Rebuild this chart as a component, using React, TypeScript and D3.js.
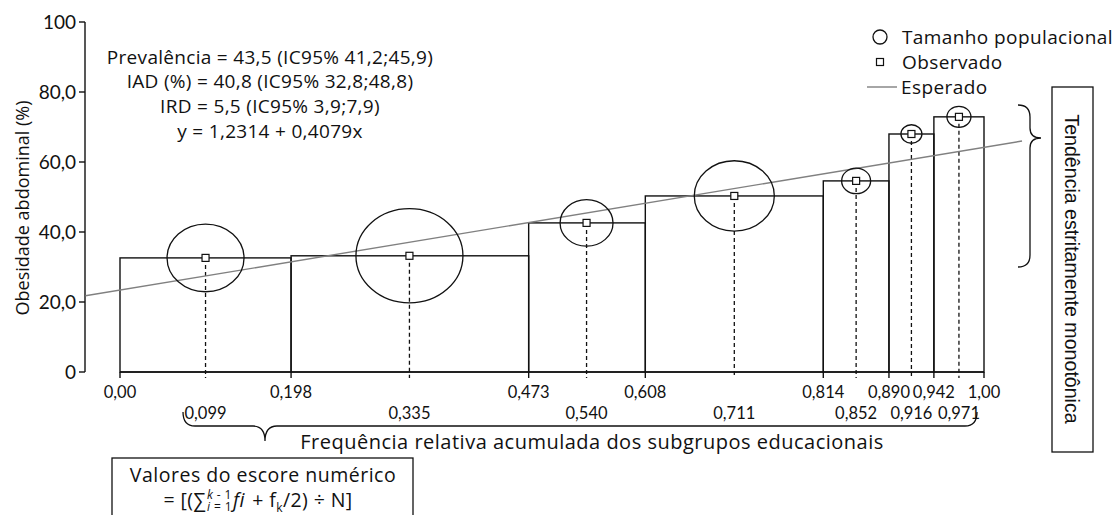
import React, { useEffect, useRef } from "react";
import * as d3 from "d3";

// limites dos subgrupos educacionais (frequência relativa acumulada)
const limites = [0, 0.198, 0.473, 0.608, 0.814, 0.89, 0.942, 1.0];
const limitesLabels = ["0,00", "0,198", "0,473", "0,608", "0,814", "0,890", "0,942", "1,00"];
// escore numérico (ponto médio de cada subgrupo)
const pontosMedios = [0.099, 0.335, 0.54, 0.711, 0.852, 0.916, 0.971];
const pontosLabels = ["0,099", "0,335", "0,540", "0,711", "0,852", "0,916", "0,971"];
// obesidade abdominal observada (%)
const observado = [32.6, 33.2, 42.6, 50.3, 54.6, 68.0, 72.9];
// tamanho populacional relativo (área do círculo)
const tamanhos = [1480, 2860, 700, 1600, 210, 110, 144];

const yTicks = [0, 20, 40, 60, 80, 100];
const yTickLabels = ["0", "20,0", "40,0", "60,0", "80,0", "100"];

// reta esperada
const intercepto = 23.4;
const inclinacao = 40.8;
const extensaoReta = [-0.04, 1.044];

const anotacoes = [
  "Prevalência = 43,5 (IC95% 41,2;45,9)",
  "IAD (%) = 40,8 (IC95% 32,8;48,8)",
  "IRD = 5,5 (IC95% 3,9;7,9)",
  "y = 1,2314 + 0,4079x",
];
const legenda = ["Tamanho populacional", "Observado", "Esperado"];

const TICK_FONT = "Lato, sans-serif";
const FONT = "'Open Sans', sans-serif";

const App: React.FC = () => {
  const svgRef = useRef<SVGSVGElement>(null);
  const width = 1116;
  const height = 515;

  useEffect(() => {
    if (!svgRef.current) return;
    const svg = d3.select(svgRef.current);
    svg.selectAll("*").remove();

    const x = d3.scaleLinear().domain([0, 1]).range([120, 984]);
    const y = d3.scaleLinear().domain([0, 100]).range([372, 22]);
    const r = d3
      .scaleSqrt()
      .domain([0, d3.max(tamanhos) as number])
      .range([0, 53.5]);
    const axisX = 85;

    const g = svg.append("g");

    // barras (retângulos por subgrupo)
    const bars = d3.range(observado.length).map((i) => ({
      x0: limites[i],
      x1: limites[i + 1],
      v: observado[i],
    }));
    g.selectAll(".bar")
      .data(bars)
      .enter()
      .append("rect")
      .attr("x", (d) => x(d.x0))
      .attr("y", (d) => y(d.v))
      .attr("width", (d) => x(d.x1) - x(d.x0))
      .attr("height", (d) => y(0) - y(d.v))
      .attr("fill", "none")
      .attr("stroke", "#111")
      .attr("stroke-width", 1.4);

    // eixo y
    g.append("line")
      .attr("x1", axisX)
      .attr("x2", axisX)
      .attr("y1", y(100))
      .attr("y2", y(0))
      .attr("stroke", "#111")
      .attr("stroke-width", 1.4);
    yTicks.forEach((t, i) => {
      g.append("line")
        .attr("x1", axisX - 6)
        .attr("x2", axisX)
        .attr("y1", y(t))
        .attr("y2", y(t))
        .attr("stroke", "#111")
        .attr("stroke-width", 1.4);
      g.append("text")
        .attr("x", axisX - 9)
        .attr("y", y(t))
        .attr("dy", "0.35em")
        .attr("text-anchor", "end")
        .style("font-family", TICK_FONT)
        .style("font-size", "19px")
        .style("fill", "#111")
        .text(yTickLabels[i]);
    });

    g.append("text")
      .attr("transform", `translate(23, 208) rotate(-90)`)
      .attr("text-anchor", "middle")
      .attr("dy", "0.35em")
      .style("font-family", FONT)
      .style("font-size", "18px")
      .style("fill", "#111")
      .text("Obesidade abdominal (%)");

    // eixo x
    g.append("line")
      .attr("x1", x(0))
      .attr("x2", x(1))
      .attr("y1", y(0))
      .attr("y2", y(0))
      .attr("stroke", "#111")
      .attr("stroke-width", 1.4);
    limites.forEach((t, i) => {
      g.append("line")
        .attr("x1", x(t))
        .attr("x2", x(t))
        .attr("y1", y(0))
        .attr("y2", y(0) + 6)
        .attr("stroke", "#111")
        .attr("stroke-width", 1.4);
      g.append("text")
        .attr("x", x(t))
        .attr("y", 398)
        .attr("text-anchor", "middle")
        .style("font-family", TICK_FONT)
        .style("font-size", "16.5px")
        .style("fill", "#111")
        .text(limitesLabels[i]);
    });
    pontosMedios.forEach((t, i) => {
      g.append("text")
        .attr("x", x(t))
        .attr("y", 419)
        .attr("text-anchor", "middle")
        .style("font-family", TICK_FONT)
        .style("font-size", "16.5px")
        .style("fill", "#111")
        .text(pontosLabels[i]);
    });

    // linhas tracejadas do ponto observado
    g.selectAll(".drop")
      .data(pontosMedios)
      .enter()
      .append("line")
      .attr("x1", (d) => x(d))
      .attr("x2", (d) => x(d))
      .attr("y1", (d, i) => y(observado[i]))
      .attr("y2", y(0) + 6)
      .attr("stroke", "#111")
      .attr("stroke-width", 1.3)
      .attr("stroke-dasharray", "4,3");

    // reta esperada
    const line = d3
      .line<number>()
      .x((d) => x(d))
      .y((d) => y(intercepto + inclinacao * d));
    g.append("path")
      .attr("d", line(extensaoReta))
      .attr("fill", "none")
      .attr("stroke", "#808080")
      .attr("stroke-width", 1.4);

    // tamanho populacional
    g.selectAll(".pop")
      .data(pontosMedios)
      .enter()
      .append("ellipse")
      .attr("cx", (d) => x(d))
      .attr("cy", (d, i) => y(observado[i]))
      .attr("rx", (d, i) => r(tamanhos[i]))
      .attr("ry", (d, i) => r(tamanhos[i]) * 0.88)
      .attr("fill", "none")
      .attr("stroke", "#111")
      .attr("stroke-width", 1.3);

    // observado
    g.selectAll(".obs")
      .data(pontosMedios)
      .enter()
      .append("rect")
      .attr("x", (d) => x(d) - 3.5)
      .attr("y", (d, i) => y(observado[i]) - 3.5)
      .attr("width", 7)
      .attr("height", 7)
      .attr("fill", "#fff")
      .attr("stroke", "#111")
      .attr("stroke-width", 1.2);

    // anotações
    anotacoes.forEach((t, i) => {
      g.append("text")
        .attr("x", 270)
        .attr("y", 57 + i * 24.7)
        .attr("dy", "0.35em")
        .attr("text-anchor", "middle")
        .style("font-family", FONT)
        .style("font-size", "19px")
        .style("letter-spacing", "0.3px")
        .style("fill", "#111")
        .text(t);
    });

    // legenda
    const lg = g.append("g").attr("transform", "translate(880, 37)");
    lg.append("circle").attr("r", 7).attr("fill", "none").attr("stroke", "#111").attr("stroke-width", 1.3);
    lg.append("rect")
      .attr("x", -3.5)
      .attr("y", 25 - 3.5)
      .attr("width", 7)
      .attr("height", 7)
      .attr("fill", "#fff")
      .attr("stroke", "#111")
      .attr("stroke-width", 1.2);
    lg.append("line")
      .attr("x1", -13)
      .attr("x2", 17)
      .attr("y1", 50)
      .attr("y2", 50)
      .attr("stroke", "#808080")
      .attr("stroke-width", 1.4);
    legenda.forEach((t, i) => {
      lg.append("text")
        .attr("x", i === 2 ? 21 : 22)
        .attr("y", i * 25)
        .attr("dy", "0.35em")
        .style("font-family", FONT)
        .style("font-size", "19px")
        .style("letter-spacing", "0.4px")
        .style("fill", "#111")
        .text(t);
    });

    // chave inferior
    const bx0 = 183;
    const bx1 = 977;
    const by = 426;
    const bp = 265;
    g.append("path")
      .attr(
        "d",
        `M${bx0},${by - 14} Q${bx0},${by} ${bx0 + 12},${by} L${bp - 12},${by} Q${bp},${by} ${bp},${by + 15} Q${bp},${by} ${bp + 12},${by} L${bx1 - 12},${by} Q${bx1},${by} ${bx1},${by - 14}`
      )
      .attr("fill", "none")
      .attr("stroke", "#111")
      .attr("stroke-width", 1.3);

    g.append("text")
      .attr("x", 592)
      .attr("y", 449)
      .attr("text-anchor", "middle")
      .style("font-family", FONT)
      .style("font-size", "20px")
      .style("letter-spacing", "0.5px")
      .style("fill", "#111")
      .text("Frequência relativa acumulada dos subgrupos educacionais");

    // caixa do escore
    g.append("rect")
      .attr("x", 112)
      .attr("y", 458)
      .attr("width", 301)
      .attr("height", 70)
      .attr("fill", "none")
      .attr("stroke", "#111")
      .attr("stroke-width", 1.3);
    g.append("text")
      .attr("x", 263)
      .attr("y", 482)
      .attr("text-anchor", "middle")
      .style("font-family", FONT)
      .style("font-size", "19.5px")
      .style("letter-spacing", "0.5px")
      .style("fill", "#111")
      .text("Valores do escore numérico");

    // fórmula com índices empilhados (um único texto com tspans)
    const fy = 507;
    const ft = g
      .append("text")
      .style("font-family", FONT)
      .style("font-size", "19.5px")
      .style("letter-spacing", "0.4px")
      .style("white-space", "pre")
      .style("fill", "#111");
    const piece = (
      txt: string,
      px: number,
      py: number,
      size: number | null,
      italic = false
    ) => {
      const t = ft
        .append("tspan")
        .attr("x", px)
        .attr("y", py)
        .style("font-style", italic ? "italic" : "normal")
        .text(txt);
      if (size) t.style("font-size", `${size}px`);
      return (t.node() as SVGTSpanElement).getComputedTextLength();
    };
    let cx = 0;
    cx += piece("= [(∑", cx, fy, null) + 1;
    const supK = piece("k", cx, fy - 8, 12, true);
    const supR = piece(" - 1", cx + supK, fy - 8, 12);
    const subI = piece("i", cx, fy + 4, 12, true);
    const subR = piece(" = 1", cx + subI, fy + 4, 12);
    cx += Math.max(supK + supR, subI + subR) + 1;
    cx += piece("fi", cx, fy, null, true) + 2;
    cx += piece(" + f", cx, fy, null);
    cx += piece("k", cx, fy + 5, 12);
    cx += piece("/2) ÷ N]", cx, fy, null);
    ft.attr("transform", `translate(${258 - cx / 2}, 0)`);

    // chave direita
    const rx0 = 1018;
    const rxv = 1030;
    const ry0 = 105;
    const ry1 = 267;
    const ryp = 138;
    g.append("path")
      .attr(
        "d",
        `M${rx0},${ry0} Q${rxv},${ry0} ${rxv},${ry0 + 12} L${rxv},${ryp - 10} Q${rxv},${ryp} ${rxv + 11},${ryp} Q${rxv},${ryp} ${rxv},${ryp + 10} L${rxv},${ry1 - 12} Q${rxv},${ry1} ${rx0},${ry1}`
      )
      .attr("fill", "none")
      .attr("stroke", "#111")
      .attr("stroke-width", 1.3);

    g.append("rect")
      .attr("x", 1052)
      .attr("y", 87)
      .attr("width", 41)
      .attr("height", 365)
      .attr("fill", "none")
      .attr("stroke", "#111")
      .attr("stroke-width", 1.3);
    g.append("text")
      .attr("transform", "translate(1072, 269) rotate(90)")
      .attr("text-anchor", "middle")
      .attr("dy", "0.35em")
      .style("font-family", "'Liberation Sans', Arial, sans-serif")
      .style("font-size", "19.6px")
      .style("fill", "#111")
      .text("Tendência estritamente monotônica");
  }, []);

  return (
    <svg
      ref={svgRef}
      width={width}
      height={height}
      viewBox={`0 0 ${width} ${height}`}
      style={{ position: "absolute", left: 0, top: 0, background: "#fff" }}
    />
  );
};

export default App;
